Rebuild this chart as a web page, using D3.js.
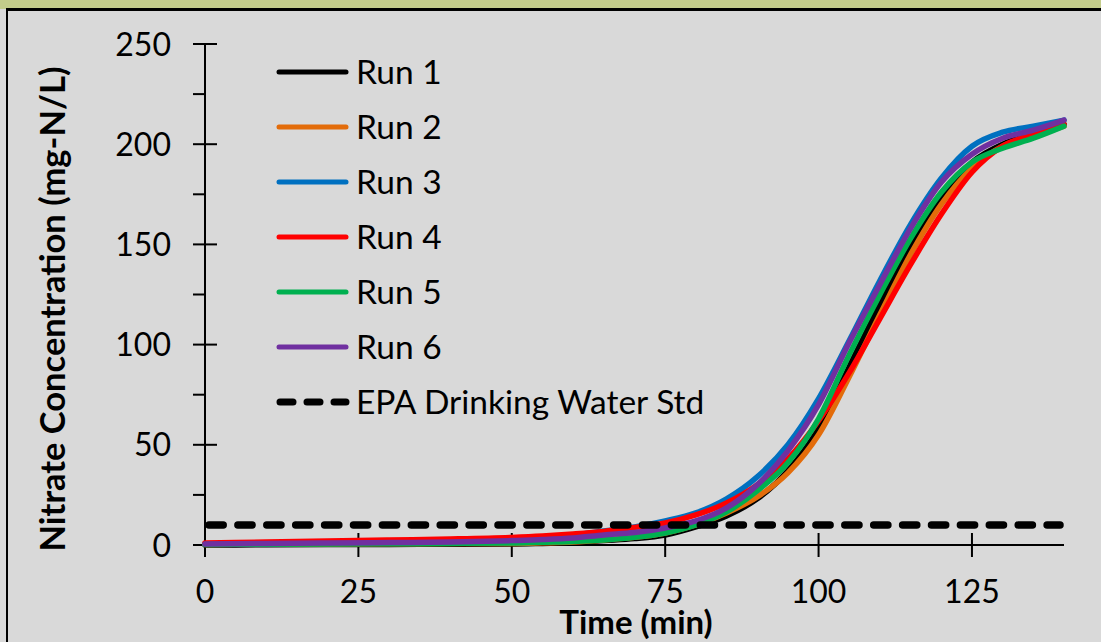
<!DOCTYPE html>
<html>
<head>
<meta charset="utf-8">
<script src="https://cdn.jsdelivr.net/npm/d3@7"></script>
<style>
  html, body { margin: 0; padding: 0; background: #d9d9d9; }
  svg { display: block; }
  text { font-family: Lato, "Open Sans", sans-serif; fill: #000; }
</style>
</head>
<body>
<svg id="chart" width="1101" height="642"></svg>
<script>
// Sampling times (min)
const times = [0, 10, 20, 30, 40, 50, 55, 60, 65, 70, 75, 80, 85, 90, 95, 100, 105, 110, 115, 120, 125, 130, 135, 140];

// Nitrate concentration (mg-N/L) for each run
const run1 = [0, 0.1, 0.2, 0.3, 0.4, 0.5, 0.8, 1.2, 2.2, 3.2, 5, 9, 14.5, 23, 37, 58, 89, 120, 149, 174, 191, 200, 205, 210];
const run2 = [0.3, 0.4, 0.5, 0.6, 0.7, 0.8, 1.1, 1.5, 2.5, 3.8, 6, 10, 16, 24, 36, 55, 84, 115, 145, 170, 188, 199, 204, 209];
const run3 = [0.5, 1, 1.3, 1.6, 2, 3, 3.7, 5, 7, 9, 12, 16, 23, 34, 50, 73, 102, 132, 160, 183, 199, 206, 209, 212];
const run4 = [1, 1.5, 2, 2.5, 3, 3.8, 4.5, 5.5, 6.8, 8.8, 11, 15, 21, 30, 43, 62, 86, 113, 140, 165, 186, 199, 205, 210];
const run5 = [0.3, 0.4, 0.5, 0.6, 0.8, 1, 1.4, 1.8, 2.5, 3.8, 6, 10, 16.5, 27, 41, 63, 95, 125, 153, 176, 191, 198, 203, 209];
const run6 = [0.5, 0.8, 1, 1.2, 1.5, 2.2, 2.7, 3.5, 5, 6.2, 8.5, 12, 18.5, 30, 47, 70, 101, 130, 158, 181, 195, 203, 207, 212];

// EPA drinking water standard (mg-N/L)
const epaStd = 10;

const seriesNames = ["Run 1", "Run 2", "Run 3", "Run 4", "Run 5", "Run 6"];
const seriesValues = [run1, run2, run3, run4, run5, run6];
const seriesColors = ["#000000", "#e36c0a", "#0070c0", "#ff0000", "#00b050", "#7030a0"];
const stdLabel = "EPA Drinking Water Std";

const xTicks = [0, 25, 50, 75, 100, 125];
const yTicks = [0, 50, 100, 150, 200, 250];
const yMinorTicks = [25, 75, 125, 175, 225];

const svg = d3.select("#chart");
const W = 1101, H = 642;

// Frame: green header strip and black border
svg.append("rect").attr("x", 0).attr("y", 0).attr("width", W).attr("height", H).attr("fill", "#d9d9d9");
svg.append("rect").attr("x", 0).attr("y", 0).attr("width", W).attr("height", 9).attr("fill", "#c3cc8b");
svg.append("line").attr("x1", 6).attr("x2", W).attr("y1", 9.5).attr("y2", 9.5)
  .attr("stroke", "#000").attr("stroke-width", 3);
svg.append("line").attr("x1", 7).attr("x2", 7).attr("y1", 8).attr("y2", H)
  .attr("stroke", "#000").attr("stroke-width", 2);

const x = d3.scaleLinear().domain([0, 140]).range([205, 1064]);
const y = d3.scaleLinear().domain([0, 250]).range([545, 44]);

// Y axis: major ticks crossing the line, minor ticks outside
const yAxisG = svg.append("g");
yAxisG.append("line").attr("x1", x(0)).attr("x2", x(0)).attr("y1", y(250)).attr("y2", y(0))
  .attr("stroke", "#000").attr("stroke-width", 2);
yAxisG.selectAll("line.major").data(yTicks).join("line").attr("class", "major")
  .attr("x1", x(0) - 12).attr("x2", x(0) + 12)
  .attr("y1", d => y(d)).attr("y2", d => y(d))
  .attr("stroke", "#000").attr("stroke-width", 2);
yAxisG.selectAll("line.minor").data(yMinorTicks).join("line").attr("class", "minor")
  .attr("x1", x(0) - 12).attr("x2", x(0))
  .attr("y1", d => y(d)).attr("y2", d => y(d))
  .attr("stroke", "#000").attr("stroke-width", 2);
yAxisG.selectAll("text").data(yTicks).join("text")
  .attr("x", 171).attr("y", d => y(d) + 11.5)
  .attr("text-anchor", "end").attr("font-size", 32)
  .text(d => d);

// X axis
const xAxisG = svg.append("g");
xAxisG.append("line").attr("x1", x(0)).attr("x2", x(140)).attr("y1", y(0)).attr("y2", y(0))
  .attr("stroke", "#000").attr("stroke-width", 2);
xAxisG.selectAll("line.tick").data(xTicks).join("line").attr("class", "tick")
  .attr("x1", d => x(d)).attr("x2", d => x(d))
  .attr("y1", y(0) - 12).attr("y2", y(0) + 12)
  .attr("stroke", "#000").attr("stroke-width", 2);
xAxisG.selectAll("text").data(xTicks).join("text")
  .attr("x", d => x(d)).attr("y", 603)
  .attr("text-anchor", "middle").attr("font-size", 32)
  .text(d => d);

// Axis titles
svg.append("text").attr("x", 636).attr("y", 634)
  .attr("text-anchor", "middle").attr("font-size", 33).attr("font-weight", "bold")
  .text("Time (min)");
svg.append("text")
  .attr("transform", "translate(65,309) rotate(-90)")
  .attr("text-anchor", "middle").attr("font-size", 34.5).attr("font-weight", "bold")
  .text("Nitrate Concentration (mg-N/L)");

// Data lines
const line = d3.line()
  .x((d, i) => x(times[i]))
  .y(d => y(d))
  .curve(d3.curveMonotoneX);

svg.append("g").selectAll("path").data(seriesValues).join("path")
  .attr("d", d => line(d))
  .attr("fill", "none")
  .attr("stroke", (d, i) => seriesColors[i])
  .attr("stroke-width", 5.5)
  .attr("stroke-linecap", "round")
  .attr("stroke-linejoin", "round");

// EPA standard line
svg.append("line")
  .attr("x1", x(0) + 4).attr("x2", x(140) - 4)
  .attr("y1", y(epaStd)).attr("y2", y(epaStd))
  .attr("stroke", "#000").attr("stroke-width", 7.5)
  .attr("stroke-linecap", "round")
  .attr("stroke-dasharray", "14.2,14.7");

// Legend
const legendRows = seriesNames.map((n, i) => ({ name: n, color: seriesColors[i], dashed: false }))
  .concat([{ name: stdLabel, color: "#000", dashed: true }]);
const legend = svg.append("g");
const rows = legend.selectAll("g").data(legendRows).join("g")
  .attr("transform", (d, i) => `translate(0,${72 + i * 55})`);
rows.append("line")
  .attr("x1", d => d.dashed ? 280 : 279).attr("x2", 346)
  .attr("y1", 0).attr("y2", 0)
  .attr("stroke", d => d.color)
  .attr("stroke-width", d => d.dashed ? 7 : 5)
  .attr("stroke-linecap", "round")
  .attr("stroke-dasharray", d => d.dashed ? "13,14" : null);
rows.append("text")
  .attr("x", 356).attr("y", 12)
  .attr("font-size", 33.5)
  .text(d => d.name);
</script>
</body>
</html>
